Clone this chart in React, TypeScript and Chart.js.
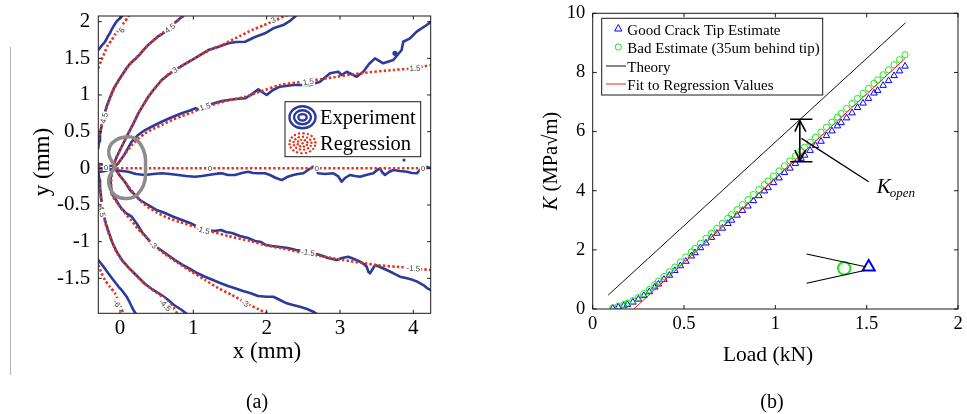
import React, { useEffect, useRef } from "react";
import { Chart, registerables } from "chart.js";

Chart.register(...registerables);

const SERIF = "'Liberation Serif', 'Times New Roman', Times, serif";
const SANS = "'Liberation Sans', Arial, Helvetica, sans-serif";
const BLUE = "#2c3b9b";
const RED = "#e5341d";

// ================= Panel (a): contour plot (x, y in mm) =================
const aXTicks = [0, 1, 2, 3, 4];
const aYTicks = [-1.5, -1, -0.5, 0, 0.5, 1, 1.5, 2];
const aXRange = [-0.296, 4.237];
const aYRange = [-1.977, 2.077];
const aLegendLabels = ["Experiment", "Regression"];

// Experiment contours
const expPos6 = [[-0.296, 1.613], [-0.27, 1.645], [-0.245, 1.681], [-0.225, 1.7], [-0.205, 1.726], [-0.185, 1.76], [-0.164, 1.804], [-0.136, 1.845], [-0.115, 1.89], [-0.091, 1.931], [-0.065, 1.975], [-0.041, 2.009], [-0.02, 2.03], [0, 2.046], [0.041, 2.09]];
const expPos45 = [[-0.296, 0.277], [-0.285, 0.37], [-0.273, 0.454], [-0.258, 0.54], [-0.239, 0.631], [-0.222, 0.7], [-0.205, 0.768], [-0.18, 0.85], [-0.15, 0.931], [-0.118, 1.01], [-0.082, 1.095], [-0.04, 1.165], [0, 1.231], [0.04, 1.29], [0.082, 1.354], [0.13, 1.42], [0.177, 1.463], [0.225, 1.505], [0.273, 1.558], [0.32, 1.615], [0.368, 1.667], [0.415, 1.71], [0.464, 1.749], [0.52, 1.8], [0.573, 1.831], [0.63, 1.87], [0.682, 1.927], [0.73, 1.97], [0.777, 2.009], [0.82, 2.045], [0.859, 2.077], [0.886, 2.104]];
const expPos3 = [[-0.095, 0.031], [-0.045, 0.154], [0, 0.25], [0.055, 0.359], [0.113, 0.477], [0.177, 0.6], [0.25, 0.75], [0.314, 0.859], [0.386, 0.976], [0.477, 1.095], [0.569, 1.204], [0.655, 1.272], [0.75, 1.34], [0.859, 1.408], [0.978, 1.477], [1.091, 1.545], [1.204, 1.613], [1.336, 1.654], [1.477, 1.705], [1.582, 1.722], [1.705, 1.726], [1.841, 1.79], [1.977, 1.841], [2.091, 1.909], [2.227, 1.954], [2.318, 2.009], [2.41, 2.091]];
const expPos15 = [[-0.082, 0.018], [-0.023, 0.068], [0.055, 0.181], [0.16, 0.363], [0.245, 0.454], [0.341, 0.522], [0.45, 0.577], [0.569, 0.635], [0.682, 0.686], [0.841, 0.75], [0.955, 0.788], [1.023, 0.818], [1.114, 0.795], [1.204, 0.863], [1.295, 0.89], [1.391, 0.918], [1.477, 0.931], [1.582, 0.945], [1.705, 0.955], [1.8, 1.013], [1.886, 1.077], [1.936, 1.041], [2.0, 1.0], [2.086, 1.068], [2.182, 1.113], [2.363, 1.136], [2.591, 1.136], [2.727, 1.181], [2.864, 1.296], [2.977, 1.317], [3.023, 1.272], [3.091, 1.317], [3.228, 1.249], [3.318, 1.317], [3.396, 1.422], [3.477, 1.5], [3.591, 1.432], [3.727, 1.477], [3.841, 1.613], [3.863, 1.726], [3.955, 1.773], [4.046, 1.863], [4.182, 1.954], [4.237, 1.995]];
const expZero = [[-0.273, 0], [-0.164, -0.01], [-0.068, -0.023], [0.027, -0.037], [0.113, -0.046], [0.218, -0.078], [0.341, -0.091], [0.45, -0.078], [0.569, -0.068], [0.682, -0.078], [0.795, -0.091], [0.9, -0.105], [1.023, -0.115], [1.118, -0.105], [1.204, -0.091], [1.295, -0.078], [1.387, -0.068], [1.473, -0.091], [1.568, -0.091], [1.664, -0.064], [1.75, -0.046], [1.814, -0.064], [1.886, -0.068], [1.977, -0.068], [2.045, -0.091], [2.127, -0.132], [2.205, -0.16], [2.277, -0.119], [2.363, -0.091], [2.427, -0.078], [2.5, -0.068], [2.564, -0.023], [2.636, 0.022], [2.673, -0.01], [2.705, -0.068], [2.796, -0.078], [2.909, -0.068], [2.973, -0.105], [3.023, -0.183], [3.068, -0.132], [3.136, -0.091], [3.205, -0.105], [3.273, -0.115], [3.355, -0.091], [3.455, -0.068], [3.505, -0.023], [3.546, 0], [3.573, -0.05], [3.614, -0.091], [3.668, -0.05], [3.727, -0.023], [3.818, -0.037], [3.91, -0.046], [3.982, -0.064], [4.046, -0.068], [4.091, -0.023], [4.136, 0.022], [4.187, 0.018], [4.237, 0]];
const expNeg15 = [[-0.068, -0.003], [0, -0.105], [0.068, -0.187], [0.136, -0.296], [0.205, -0.364], [0.273, -0.432], [0.382, -0.5], [0.5, -0.569], [0.614, -0.61], [0.727, -0.66], [0.845, -0.705], [0.955, -0.746], [1.036, -0.787], [1.114, -0.818], [1.2, -0.841], [1.295, -0.855], [1.377, -0.841], [1.446, -0.869], [1.527, -0.882], [1.636, -0.923], [1.746, -0.95], [1.841, -0.991], [1.923, -1.005], [1.991, -1.046], [2.073, -1.06], [2.182, -1.073], [2.291, -1.087], [2.4, -1.114], [2.5, -1.127], [2.618, -1.155], [2.727, -1.182], [2.836, -1.223], [2.955, -1.25], [3.027, -1.223], [3.113, -1.205], [3.191, -1.237], [3.273, -1.274], [3.327, -1.305], [3.364, -1.342], [3.389, -1.414], [3.409, -1.432], [3.437, -1.387], [3.477, -1.319], [3.546, -1.346], [3.637, -1.387], [3.723, -1.428], [3.818, -1.478], [3.9, -1.496], [4.0, -1.524], [4.064, -1.551], [4.137, -1.592], [4.187, -1.633], [4.237, -1.66]];
const expNeg3 = [[-0.109, -0.023], [-0.13, -0.16], [-0.113, -0.341], [-0.055, -0.432], [0.014, -0.541], [0.082, -0.61], [0.16, -0.66], [0.232, -0.76], [0.3, -0.869], [0.368, -0.95], [0.432, -1.023], [0.518, -1.087], [0.614, -1.155], [0.75, -1.251], [0.859, -1.319], [0.955, -1.373], [1.05, -1.428], [1.159, -1.478], [1.268, -1.523], [1.364, -1.564], [1.473, -1.605], [1.568, -1.636], [1.677, -1.673], [1.773, -1.701], [1.882, -1.742], [2.0, -1.751], [2.091, -1.751], [2.182, -1.796], [2.273, -1.841], [2.359, -1.864], [2.455, -1.887], [2.55, -1.919], [2.636, -1.955], [2.705, -2.0]];
const expNeg45 = [[-0.296, -0.05], [-0.28, -0.16], [-0.273, -0.255], [-0.259, -0.391], [-0.245, -0.5], [-0.228, -0.61], [-0.191, -0.76], [-0.15, -0.882], [-0.102, -1.019], [-0.041, -1.142], [0.027, -1.251], [0.123, -1.36], [0.218, -1.455], [0.341, -1.578], [0.436, -1.646], [0.545, -1.714], [0.641, -1.782], [0.736, -1.864], [0.841, -1.932], [0.931, -2.0]];
const expNeg6 = [[-0.296, -1.251], [-0.232, -1.332], [-0.16, -1.432], [-0.091, -1.523], [-0.027, -1.605], [0.023, -1.66], [0.091, -1.751], [0.123, -1.81], [0.16, -1.887], [0.191, -1.946], [0.228, -2.0]];
const expTipUpper = [[-0.296, 0.06], [-0.22, 0.05], [-0.15, 0.035], [-0.095, 0.031]];
const expTipLower = [[-0.296, -0.05], [-0.22, -0.04], [-0.15, -0.02], [-0.068, -0.003]];
const expDots = [[3.75, 1.568], [3.873, 0.113], [1.341, -0.068]];

// Regression contours
const regPos6 = [[-0.296, 1.364], [-0.259, 1.463], [-0.205, 1.59], [-0.164, 1.681], [-0.113, 1.75], [-0.068, 1.825], [0, 1.909], [0.055, 1.988], [0.113, 2.067], [0.136, 2.104]];
const regPos45 = [[-0.296, 0.386], [-0.27, 0.5], [-0.24, 0.63], [-0.2, 0.77], [-0.15, 0.92], [-0.08, 1.09], [0, 1.225], [0.09, 1.36], [0.18, 1.47], [0.28, 1.565], [0.38, 1.675], [0.48, 1.765], [0.58, 1.845], [0.68, 1.93], [0.78, 2.01], [0.88, 2.09], [0.9, 2.11]];
const regPos3 = [[-0.095, 0.031], [-0.041, 0.168], [0.014, 0.277], [0.068, 0.386], [0.123, 0.495], [0.191, 0.631], [0.259, 0.768], [0.341, 0.904], [0.436, 1.041], [0.545, 1.177], [0.682, 1.3], [0.818, 1.381], [0.978, 1.477], [1.118, 1.558], [1.255, 1.627], [1.391, 1.681], [1.477, 1.726], [1.636, 1.804], [1.8, 1.886], [1.95, 1.947], [2.091, 2.009], [2.25, 2.077], [2.318, 2.104]];
const regPos15 = [[-0.082, 0.018], [-0.014, 0.086], [0.068, 0.195], [0.164, 0.318], [0.259, 0.413], [0.341, 0.477], [0.45, 0.536], [0.569, 0.59], [0.709, 0.659], [0.845, 0.713], [0.982, 0.761], [1.114, 0.818], [1.295, 0.877], [1.477, 0.925], [1.705, 0.976], [1.909, 1.045], [2.182, 1.136], [2.5, 1.181], [2.819, 1.227], [3.273, 1.296], [3.727, 1.341], [4.0, 1.364], [4.237, 1.409]];
const regZero = [[-0.296, 0], [4.237, 0]];
const regNeg15 = [[-0.068, -0.003], [0.014, -0.119], [0.109, -0.241], [0.218, -0.378], [0.341, -0.5], [0.491, -0.596], [0.655, -0.678], [0.818, -0.732], [1.023, -0.8], [1.227, -0.855], [1.473, -0.923], [1.773, -0.991], [1.977, -1.046], [2.182, -1.087], [2.591, -1.169], [3.041, -1.25], [3.5, -1.319], [3.863, -1.35], [4.237, -1.387]];
const regNeg3 = [[-0.109, -0.023], [-0.123, -0.228], [-0.109, -0.364], [-0.027, -0.487], [0.055, -0.596], [0.15, -0.705], [0.245, -0.828], [0.341, -0.923], [0.454, -1.046], [0.614, -1.169], [0.791, -1.292], [0.982, -1.414], [1.159, -1.523], [1.336, -1.632], [1.527, -1.728], [1.728, -1.841], [1.882, -1.919], [2.0, -1.977], [2.046, -2.0]];
const regNeg45 = [[-0.296, -0.132], [-0.273, -0.296], [-0.252, -0.46], [-0.232, -0.596], [-0.198, -0.746], [-0.157, -0.882], [-0.109, -1.005], [-0.055, -1.128], [0.014, -1.237], [0.109, -1.346], [0.218, -1.455], [0.327, -1.564], [0.436, -1.653], [0.545, -1.728], [0.641, -1.81], [0.723, -1.892], [0.777, -1.973], [0.791, -2.0]];
const regNeg6 = [[-0.296, -1.319], [-0.252, -1.428], [-0.205, -1.523], [-0.136, -1.619], [-0.068, -1.705], [-0.027, -1.796], [0.007, -1.878], [0.045, -1.977], [0.055, -2.0]];
const regTipUpper = [[-0.296, 0.035], [-0.2, 0.03], [-0.095, 0.03]];
const regTipLower = [[-0.296, -0.025], [-0.2, -0.015], [-0.068, -0.003]];

// Gray loop around the crack tip
const crackTipZone = [[-0.068, 0.022], [-0.15, 0.181], [-0.136, 0.304], [-0.055, 0.386], [0.068, 0.427], [0.191, 0.413], [0.286, 0.318], [0.341, 0.181], [0.348, 0.018], [0.341, -0.16], [0.286, -0.296], [0.191, -0.391], [0.068, -0.412], [-0.055, -0.378], [-0.136, -0.269], [-0.15, -0.132], [-0.068, 0.022]];

// Contour labels: text, x, y, angle (deg)
const contourLabels: [string, number, number, number][] = [
  ["6", 0.023, 1.886, -55],
  ["4.5", 0.682, 1.909, -38],
  ["4.5", -0.218, 0.686, -75],
  ["3", 0.75, 1.34, -32],
  ["3", 2.091, 2.02, -22],
  ["1.5", 1.159, 0.84, -18],
  ["1.5", 2.568, 1.181, -8],
  ["1.5", 4.023, 1.364, -4],
  ["0", 1.227, 0.004, 0],
  ["0", 2.682, 0.004, 0],
  ["0", 4.132, 0.004, 0],
  ["0", -0.19, 0.018, 0],
  ["-1.5", 1.132, -0.841, 15],
  ["-1.5", 2.564, -1.148, 8],
  ["-1.5", 4.0, -1.364, 4],
  ["-3", 0.454, -1.046, 35],
  ["-3", 1.705, -1.841, 25],
  ["-4.5", 0.614, -1.864, 45],
  ["-4.5", -0.25, -0.569, 80],
  ["-6", -0.045, -1.841, 60],
];

const experimentLines = [expPos6, expPos45, expPos3, expPos15, expZero, expNeg15, expNeg3, expNeg45, expNeg6, expTipUpper, expTipLower];
const regressionLines = [regPos6, regPos45, regPos3, regPos15, regZero, regNeg15, regNeg3, regNeg45, regNeg6, regTipUpper, regTipLower];

// ================= Panel (b): K vs load =================
const bXTicks = [0, 0.5, 1, 1.5, 2];
const bYTicks = [0, 2, 4, 6, 8, 10];
const bLoad = [0.11, 0.14, 0.17, 0.19, 0.22, 0.25, 0.28, 0.31, 0.34, 0.36, 0.39, 0.42, 0.45, 0.48, 0.51, 0.54, 0.56, 0.59, 0.62, 0.65, 0.68, 0.71, 0.74, 0.76, 0.79, 0.82, 0.85, 0.88, 0.91, 0.94, 0.96, 0.99, 1.02, 1.05, 1.08, 1.11, 1.14, 1.16, 1.19, 1.22, 1.25, 1.28, 1.31, 1.34, 1.36, 1.39, 1.42, 1.45, 1.48, 1.51, 1.54, 1.56, 1.59, 1.62, 1.65, 1.68, 1.71];
const bGoodK = [0.02, 0.06, 0.11, 0.15, 0.23, 0.33, 0.45, 0.58, 0.74, 0.84, 1.0, 1.14, 1.3, 1.46, 1.61, 1.79, 1.9, 2.07, 2.23, 2.42, 2.56, 2.73, 2.89, 3.0, 3.17, 3.33, 3.48, 3.66, 3.83, 3.99, 4.1, 4.27, 4.43, 4.61, 4.76, 4.92, 5.09, 5.2, 5.36, 5.53, 5.67, 5.86, 6.02, 6.19, 6.3, 6.46, 6.63, 6.81, 6.96, 7.12, 7.3, 7.39, 7.56, 7.72, 7.89, 8.05, 8.21];
const bBadK = [0.04, 0.09, 0.15, 0.2, 0.28, 0.39, 0.52, 0.66, 0.83, 0.94, 1.1, 1.26, 1.42, 1.59, 1.76, 1.93, 2.05, 2.22, 2.39, 2.56, 2.73, 2.9, 3.07, 3.19, 3.36, 3.53, 3.7, 3.87, 4.04, 4.21, 4.33, 4.5, 4.67, 4.84, 5.01, 5.18, 5.35, 5.47, 5.64, 5.81, 5.98, 6.15, 6.32, 6.49, 6.61, 6.78, 6.95, 7.12, 7.29, 7.46, 7.63, 7.75, 7.92, 8.09, 8.26, 8.43, 8.6];
const bTheoryLoad = [0.085, 1.713];
const bTheoryK = [0.47, 9.68];
const bFitLoad = [0.225, 1.71];
const bFitK = [0, 8.47];
const bLegendLabels = ["Good Crack Tip Estimate", "Bad Estimate (35um behind tip)", "Theory", "Fit to Regression Values"];

// K_open annotation and crack inset (in Load, K units)
const kOpenUpperBar = [[1.081, 6.415], [1.203, 6.415]];
const kOpenLowerBar = [[1.081, 4.98], [1.203, 4.98]];
const kOpenShaft = [[1.134, 6.37], [1.134, 5.02]];
const kOpenHeadUp = [[1.107, 5.996], [1.134, 6.37], [1.167, 5.996]];
const kOpenHeadDown = [[1.107, 5.377], [1.134, 5.02], [1.167, 5.377]];
const kOpenLeader = [[1.143, 5.77], [1.511, 4.305]];
const crackUpper = [[1.171, 1.86], [1.494, 1.43]];
const crackLower = [[1.171, 0.87], [1.494, 1.31]];
const insetBad = [[1.377, 1.376]];
const insetGood = [[1.511, 1.42]];

// ================= helpers =================
const xy = (a: number[][]) => a.map(([x, y]) => ({ x, y }));
const zipXY = (xs: number[], ys: number[]) => xs.map((x, i) => ({ x, y: ys[i] }));
const fixedTicks = (values: number[]) => (scale: any) => {
  scale.ticks = values.map((v) => ({ value: v }));
};

function drawFrameAndTicks(chart: any, xt: number[], yt: number[], len: number) {
  const { ctx, chartArea: a } = chart;
  const xs = chart.scales.x;
  const ys = chart.scales.y;
  ctx.save();
  ctx.strokeStyle = "#1a1a1a";
  ctx.lineWidth = 1;
  ctx.strokeRect(a.left, a.top, a.right - a.left, a.bottom - a.top);
  ctx.beginPath();
  for (const v of xt) {
    const p = xs.getPixelForValue(v);
    ctx.moveTo(p, a.bottom);
    ctx.lineTo(p, a.bottom - len);
    ctx.moveTo(p, a.top);
    ctx.lineTo(p, a.top + len);
  }
  for (const v of yt) {
    const p = ys.getPixelForValue(v);
    ctx.moveTo(a.left, p);
    ctx.lineTo(a.left + len, p);
    ctx.moveTo(a.right, p);
    ctx.lineTo(a.right - len, p);
  }
  ctx.stroke();
  ctx.restore();
}

const panelAPlugin = {
  id: "panelA",
  afterDatasetsDraw(chart: any) {
    const { ctx } = chart;
    const xs = chart.scales.x;
    const ys = chart.scales.y;
    ctx.save();
    ctx.font = `8px ${SANS}`;
    ctx.textAlign = "center";
    ctx.textBaseline = "middle";
    for (const [t, x, y, ang] of contourLabels) {
      const px = xs.getPixelForValue(x);
      const py = ys.getPixelForValue(y);
      ctx.save();
      ctx.translate(px, py);
      ctx.rotate((ang * Math.PI) / 180);
      const w = ctx.measureText(t).width;
      ctx.fillStyle = "#fff";
      ctx.fillRect(-w / 2 - 1, -4, w + 2, 8);
      ctx.fillStyle = "#444";
      ctx.fillText(t, 0, 0.5);
      ctx.restore();
    }
    ctx.restore();
  },
  afterDraw(chart: any) {
    const { ctx, chartArea: a } = chart;
    drawFrameAndTicks(chart, aXTicks, aYTicks, 3.5);
    ctx.save();
    // legend box
    const bx = a.left + 186.7, by = a.top + 85.7, bw = 135.7, bh = 55;
    ctx.fillStyle = "#fff";
    ctx.fillRect(bx, by, bw, bh);
    ctx.strokeStyle = "#1a1a1a";
    ctx.lineWidth = 1;
    ctx.strokeRect(bx, by, bw, bh);
    // experiment icon: concentric ellipses
    const cx = bx + 17.5;
    const cy1 = by + 15.6;
    ctx.strokeStyle = BLUE;
    ctx.lineWidth = 2.4;
    for (const [rx, ry] of [[13, 11], [8.5, 7], [4.2, 3.2]]) {
      ctx.beginPath();
      ctx.ellipse(cx, cy1, rx, ry, 0, 0, Math.PI * 2);
      ctx.stroke();
    }
    // regression icon: dotted ellipses
    const cy2 = by + 41.5;
    ctx.fillStyle = RED;
    for (const [rx, ry, n] of [[13, 10, 18], [9, 6.5, 13], [5, 3.5, 8], [0, 0, 1]]) {
      for (let k = 0; k < n; k++) {
        const t = (k / n) * Math.PI * 2 + rx * 0.1;
        ctx.beginPath();
        ctx.arc(cx + rx * Math.cos(t), cy2 + ry * Math.sin(t), 1.2, 0, Math.PI * 2);
        ctx.fill();
      }
    }
    ctx.fillStyle = "#000";
    ctx.font = `20.5px ${SERIF}`;
    ctx.textAlign = "left";
    ctx.textBaseline = "alphabetic";
    ctx.fillText(aLegendLabels[0], bx + 35, by + 22.5);
    ctx.fillText(aLegendLabels[1], bx + 35, by + 48.5);
    // axis titles
    ctx.font = `23px ${SERIF}`;
    ctx.textAlign = "center";
    ctx.textBaseline = "middle";
    ctx.fillText("x (mm)", 267, 352);
    ctx.save();
    ctx.translate(43, 162);
    ctx.rotate(-Math.PI / 2);
    ctx.fillText("y (mm)", 0, 0);
    ctx.restore();
    ctx.restore();
  },
};

const panelBPlugin = {
  id: "panelB",
  afterDraw(chart: any) {
    const { ctx } = chart;
    drawFrameAndTicks(chart, bXTicks, bYTicks, 4);
    ctx.save();
    // legend
    const bx = 121.7, by = 18.3, bw = 221, bh = 76.7;
    ctx.fillStyle = "#fff";
    ctx.fillRect(bx, by, bw, bh);
    ctx.strokeStyle = "#1a1a1a";
    ctx.lineWidth = 1;
    ctx.strokeRect(bx, by, bw, bh);
    const mx = 138.3;
    // triangle
    ctx.strokeStyle = "#0000ff";
    ctx.lineWidth = 1;
    ctx.beginPath();
    ctx.moveTo(mx, 24.5);
    ctx.lineTo(mx + 3.6, 31);
    ctx.lineTo(mx - 3.6, 31);
    ctx.closePath();
    ctx.stroke();
    // circle
    ctx.strokeStyle = "#1ee61e";
    ctx.beginPath();
    ctx.arc(mx, 47, 3.1, 0, Math.PI * 2);
    ctx.stroke();
    // lines
    ctx.strokeStyle = "#111";
    ctx.beginPath();
    ctx.moveTo(126, 66);
    ctx.lineTo(146, 66);
    ctx.stroke();
    ctx.strokeStyle = "#ff2020";
    ctx.beginPath();
    ctx.moveTo(126, 84);
    ctx.lineTo(146, 84);
    ctx.stroke();
    ctx.fillStyle = "#000";
    ctx.font = `15px ${SERIF}`;
    ctx.textAlign = "left";
    ctx.textBaseline = "alphabetic";
    const ys = [35, 53.3, 71.7, 90];
    bLegendLabels.forEach((t, i) => ctx.fillText(t, 147.3, ys[i]));
    // axis titles
    ctx.font = `21.5px ${SERIF}`;
    ctx.textAlign = "center";
    ctx.textBaseline = "middle";
    ctx.fillText("Load (kN)", 288, 355);
    ctx.save();
    ctx.translate(71.7, 161);
    ctx.rotate(-Math.PI / 2);
    const kPart = "K";
    const rest = " (MPa\u221Am)";
    ctx.font = `italic 20.5px ${SERIF}`;
    const w1 = ctx.measureText(kPart).width;
    ctx.font = `20.5px ${SERIF}`;
    const w2 = ctx.measureText(rest).width;
    ctx.textAlign = "left";
    ctx.font = `italic 20.5px ${SERIF}`;
    ctx.fillText(kPart, -(w1 + w2) / 2, 0);
    ctx.font = `20.5px ${SERIF}`;
    ctx.fillText(rest, -(w1 + w2) / 2 + w1, 0);
    ctx.restore();
    // K_open label
    ctx.textAlign = "left";
    ctx.textBaseline = "alphabetic";
    ctx.font = `italic 21px ${SERIF}`;
    ctx.fillText("K", 396.7, 193.3);
    const kw = ctx.measureText("K").width;
    ctx.font = `italic 13px ${SERIF}`;
    ctx.fillText("open", 396.7 + kw - 1, 197);
    ctx.restore();
  },
};

function configA(): any {
  const datasets: any[] = [];
  datasets.push({ data: xy(crackTipZone), showLine: true, borderColor: "#8c8c8c", borderWidth: 3.5, pointRadius: 0, tension: 0.35, fill: false });
  for (const r of regressionLines) {
    datasets.push({ data: xy(r), showLine: true, borderColor: RED, borderWidth: 2.6, borderDash: [2.4, 2.2], pointRadius: 0, tension: 0.2, fill: false });
  }
  datasets.push({ data: xy(expDots), showLine: false, pointRadius: [2.6, 1.6, 1.2], pointBackgroundColor: BLUE, pointBorderWidth: 0 });
  for (const e of experimentLines) {
    datasets.push({ data: xy(e), showLine: true, borderColor: BLUE, borderWidth: 2.6, pointRadius: 0, tension: 0, fill: false, borderJoinStyle: "round", borderCapStyle: "round" });
  }
  return {
    type: "scatter",
    data: { datasets },
    options: {
      responsive: false,
      animation: false,
      devicePixelRatio: 1,
      events: [],
      layout: { padding: { left: 0, top: 16, right: 480 - 430.7, bottom: 0 } },
      plugins: { legend: { display: false }, tooltip: { enabled: false } },
      scales: {
        x: {
          type: "linear",
          min: aXRange[0],
          max: aXRange[1],
          grid: { display: false, drawTicks: false },
          border: { display: false },
          ticks: { color: "#000", font: { family: SERIF, size: 21 }, padding: 3, maxRotation: 0, autoSkip: false, callback: (v: number) => String(v) },
          afterBuildTicks: fixedTicks(aXTicks),
          afterFit: (s: any) => { s.height = 414 - 313.3; s.paddingLeft = 0; s.paddingRight = 0; },
        },
        y: {
          type: "linear",
          min: aYRange[0],
          max: aYRange[1],
          grid: { display: false, drawTicks: false },
          border: { display: false },
          ticks: { color: "#000", font: { family: SERIF, size: 21 }, padding: 8, autoSkip: false, callback: (v: number) => String(v) },
          afterBuildTicks: fixedTicks(aYTicks),
          afterFit: (s: any) => { s.width = 98.3; s.paddingTop = 0; s.paddingBottom = 0; },
        },
      },
    },
    plugins: [panelAPlugin],
  };
}

function configB(): any {
  const line = (d: number[][], color: string, w: number) => ({ data: xy(d), showLine: true, borderColor: color, borderWidth: w, pointRadius: 0, fill: false, order: 0 });
  const datasets: any[] = [
    { label: bLegendLabels[3], data: zipXY(bFitLoad, bFitK), showLine: true, borderColor: "#ff1a1a", borderWidth: 1, pointRadius: 0, order: 1 },
    { label: bLegendLabels[2], data: zipXY(bTheoryLoad, bTheoryK), showLine: true, borderColor: "#111", borderWidth: 1, pointRadius: 0, order: 2 },
    { label: bLegendLabels[1], data: zipXY(bLoad, bBadK), showLine: false, pointStyle: "circle", pointRadius: 3.1, pointBorderColor: "#1ee61e", pointBackgroundColor: "rgba(0,0,0,0)", pointBorderWidth: 1, order: 3 },
    { label: bLegendLabels[0], data: zipXY(bLoad, bGoodK), showLine: false, pointStyle: "triangle", pointRadius: 3.8, pointBorderColor: "#0000ff", pointBackgroundColor: "rgba(0,0,0,0)", pointBorderWidth: 1, order: 4 },
    line(kOpenUpperBar, "#000", 1.6),
    line(kOpenLowerBar, "#000", 1.6),
    line(kOpenShaft, "#000", 1.6),
    line(kOpenHeadUp, "#000", 1.6),
    line(kOpenHeadDown, "#000", 1.6),
    line(kOpenLeader, "#000", 1.3),
    line(crackUpper, "#000", 1.1),
    line(crackLower, "#000", 1.1),
    { data: xy(insetBad), showLine: false, pointStyle: "circle", pointRadius: 6.2, pointBorderColor: "#1ee61e", pointBackgroundColor: "rgba(0,0,0,0)", pointBorderWidth: 2, order: 0 },
    { data: xy(insetGood), showLine: false, pointStyle: "triangle", pointRadius: 7, pointBorderColor: "#0000ff", pointBackgroundColor: "rgba(0,0,0,0)", pointBorderWidth: 2, order: 0 },
  ];
  return {
    type: "scatter",
    data: { datasets },
    options: {
      responsive: false,
      animation: false,
      devicePixelRatio: 1,
      events: [],
      layout: { padding: { left: 0, top: 13.3, right: 3, bottom: 0 } },
      plugins: { legend: { display: false }, tooltip: { enabled: false } },
      scales: {
        x: {
          type: "linear",
          min: 0,
          max: 2,
          grid: { display: false, drawTicks: false },
          border: { display: false },
          ticks: { color: "#000", font: { family: SERIF, size: 18.5 }, padding: 4, maxRotation: 0, autoSkip: false, callback: (v: number) => String(v) },
          afterBuildTicks: fixedTicks(bXTicks),
          afterFit: (s: any) => { s.height = 414 - 309; s.paddingLeft = 0; s.paddingRight = 0; },
        },
        y: {
          type: "linear",
          min: 0,
          max: 10,
          grid: { display: false, drawTicks: false },
          border: { display: false },
          ticks: { color: "#000", font: { family: SERIF, size: 18.5 }, padding: 7.5, autoSkip: false, callback: (v: number) => String(v) },
          afterBuildTicks: fixedTicks(bYTicks),
          afterFit: (s: any) => { s.width = 112.7; s.paddingTop = 0; s.paddingBottom = 0; },
        },
      },
    },
    plugins: [panelBPlugin],
  };
}

function ChartCanvas({ make, left, width }: { make: () => any; left: number; width: number }) {
  const ref = useRef<HTMLCanvasElement>(null);
  useEffect(() => {
    const chart = new Chart(ref.current as HTMLCanvasElement, make());
    return () => chart.destroy();
  }, []);
  return (
    <canvas
      ref={ref}
      width={width}
      height={414}
      style={{ position: "absolute", left, top: 0, width, height: 414 }}
    />
  );
}

export default function App() {
  return (
    <div style={{ position: "absolute", left: 0, top: 0, width: 967, height: 414, background: "#fff", overflow: "hidden" }}>
      <div style={{ position: "absolute", left: 10, top: 47, width: 1, height: 328, background: "#b4b4b4" }} />
      <ChartCanvas make={configA} left={0} width={480} />
      <ChartCanvas make={configB} left={480} width={487} />
      <div style={{ position: "absolute", left: 207, top: 389, width: 100, textAlign: "center", fontFamily: SERIF, fontSize: 20, lineHeight: "24px", color: "#000" }}>(a)</div>
      <div style={{ position: "absolute", left: 722, top: 389, width: 100, textAlign: "center", fontFamily: SERIF, fontSize: 20, lineHeight: "24px", color: "#000" }}>(b)</div>
    </div>
  );
}
